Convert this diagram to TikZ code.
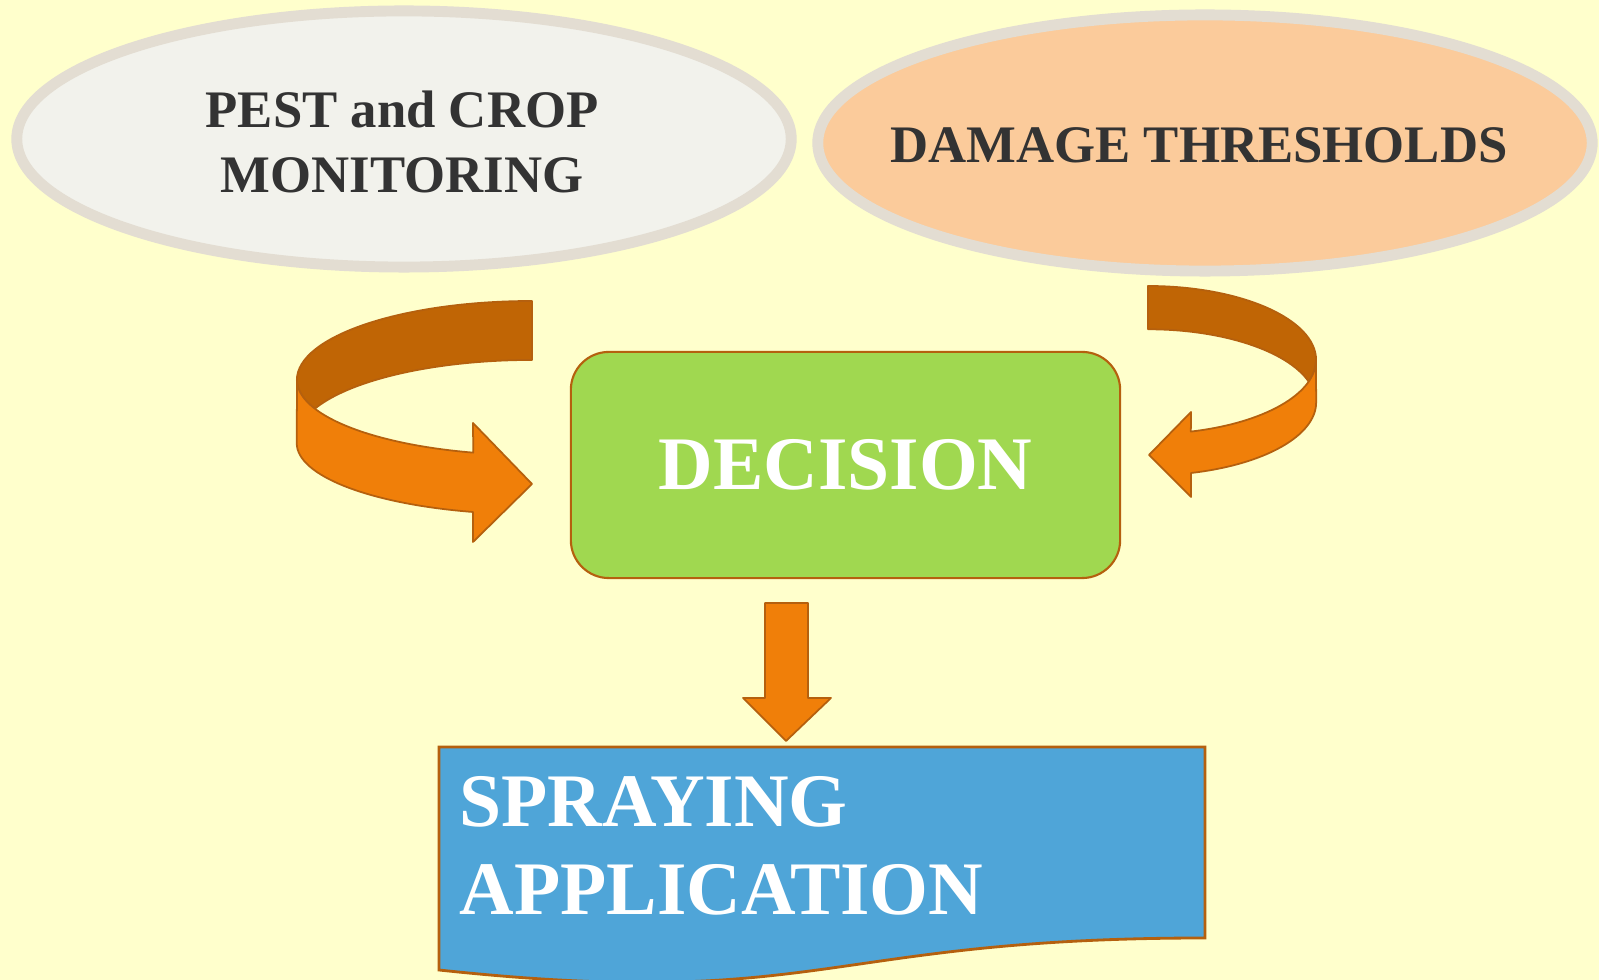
\documentclass[tikz,border=0pt]{standalone}
\usepackage{fontspec}
\setmainfont{Liberation Serif}
\usetikzlibrary{shapes.geometric, positioning}
\definecolor{bgyellow}{HTML}{FFFFCC}
\definecolor{ringgray}{HTML}{E3DDD2}
\definecolor{monfill}{HTML}{F2F2EC}
\definecolor{damfill}{HTML}{FBCB9B}
\definecolor{decfill}{HTML}{A0D850}
\definecolor{brownline}{HTML}{B5600E}
\definecolor{arrfront}{HTML}{F07F09}
\definecolor{arrback}{HTML}{C06505}
\definecolor{docfill}{HTML}{4FA5D8}
\definecolor{darktext}{HTML}{333333}

\begin{document}
\begin{tikzpicture}[x=0.01cm, y=-0.01cm,
    source/.style={ellipse, draw=ringgray, line width=3.1pt, minimum width=7.74cm, minimum height=2.56cm, inner sep=0pt},
    srctext/.style={align=center, inner sep=0pt, text=darktext, font=\fontsize{15}{18.5}\selectfont\bfseries},
    decide/.style={rectangle, rounded corners=0.38cm, draw=brownline, fill=decfill, line width=0.6pt, minimum width=5.49cm, minimum height=2.26cm, text=white, font=\fontsize{21.5}{25}\selectfont\bfseries},
    doctext/.style={anchor=base west, inner sep=0pt, text=white, font=\fontsize{21.5}{25}\selectfont\bfseries},
    front/.style={fill=arrfront, draw=brownline, line width=0.5pt, line join=round},
    back/.style={fill=arrback, draw=brownline, line width=0.5pt, line join=round},
    docshape/.style={fill=docfill, draw=brownline, line width=0.8pt}]
% background
\fill[bgyellow] (0,0) rectangle (1599,980);
\useasboundingbox (0,0) rectangle (1599,980);
% sources
\node[source, fill=monfill] (mon) at (404,139) {};
\node[srctext] (montext) at (402,142) {PEST and CROP\\MONITORING};
\node[source, fill=damfill] (dam) at (1205,143) {};
\node[srctext] (damtext) at (1199,145.5) {DAMAGE THRESHOLDS};
% decision
\node[decide] (dec) at (845.5,465) {DECISION};
% left curved arrow
\draw[back] (532,301) arc[start angle=90, end angle=180, x radius=2.35cm, y radius=0.79cm]
    arc[start angle=180, end angle=202.5, x radius=2.35cm, y radius=0.75cm]
    arc[start angle=157.5, end angle=90, x radius=2.35cm, y radius=0.79cm] -- cycle;
\draw[front] (297,380) arc[start angle=180, end angle=255.5, x radius=2.35cm, y radius=0.75cm]
    -- (473,423) -- (532,484) -- (473,542) -- (473,512)
    arc[start angle=255.5, end angle=180, x radius=2.35cm, y radius=0.71cm] -- cycle;
% right curved arrow
\draw[back] (1148,286) arc[start angle=90, end angle=0, x radius=1.68cm, y radius=0.74cm]
    arc[start angle=0, end angle=-17, x radius=1.68cm, y radius=0.74cm]
    arc[start angle=17, end angle=90, x radius=1.68cm, y radius=0.74cm] -- cycle;
\draw[front] (1316,360) arc[start angle=0, end angle=-75.2, x radius=1.68cm, y radius=0.74cm]
    -- (1191,412) -- (1149,455) -- (1191,497) -- (1191,473)
    arc[start angle=-75.2, end angle=0, x radius=1.68cm, y radius=0.73cm] -- cycle;
% down arrow
\draw[front] (765,603) -- (808,603) -- (808,698) -- (831,698) -- (786,741) -- (743,698) -- (765,698) -- cycle;
% spraying
\draw[docshape] (439,747) -- (1205,747) -- (1205,938) .. controls (822,938) and (822,1011) .. (439,970) -- cycle;
\node[doctext] (spray) at (459,827) {SPRAYING};
\node[doctext] (appl) at (459,915) {APPLICATION};
\end{tikzpicture}
\end{document}
